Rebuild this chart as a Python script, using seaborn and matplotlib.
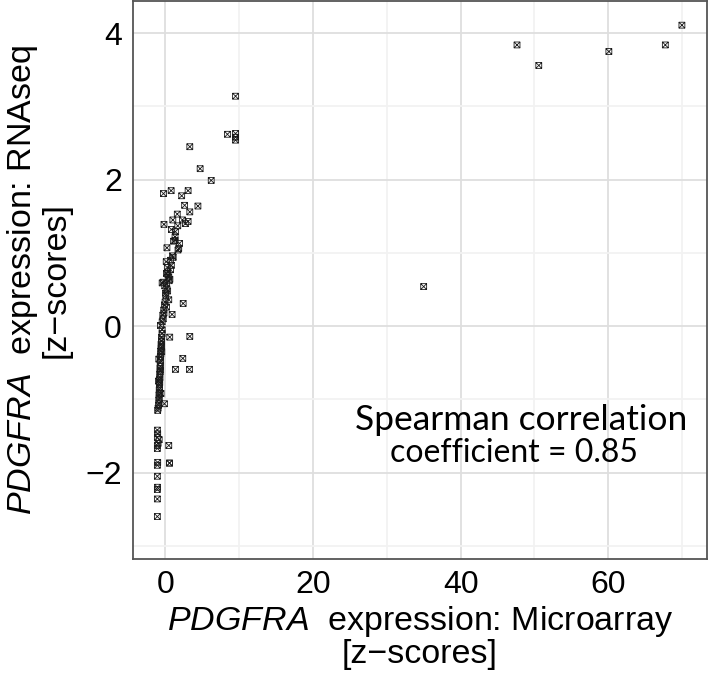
import matplotlib
matplotlib.use("Agg")
import matplotlib.pyplot as plt
import matplotlib.path as mpath
from matplotlib.ticker import MultipleLocator
import seaborn as sns
import pandas as pd

# ---- data ----
microarray = [
    70.0, 47.65, 67.75, 60.1, 50.6, 35.0,
    9.5, 8.4, 9.5, 9.5, 9.5,
    3.3, 4.7, 6.2, -0.27, 0.77, 2.2, 3.07, 2.6, 4.4, 3.3, 1.6, 3.07, 1.0, 2.3, 2.7,
    -0.2, 1.67, 0.8, 1.35, 1.3, 1.3, 1.9, 1.1, 0.2, 1.8,
    1.7, 0.95, 1.05, 0.8, 0.68, 0.14, 0.3, 0.45, -0.45, -0.3, 0.14, 0.2, 0.0, 0.05,
    0.45, 2.4, -0.14, -0.23, 0.9, -0.36, -0.45, -0.68, -0.45, 0.58, 3.3, -0.54,
    -0.54, -0.54, 0.1, 0.25, 0.35, -0.1, 0.6, 0.7, 0.5, 0.3, -0.05, 0.15, -0.3, -0.2,
    -0.55, -0.6, -0.58, -0.65, -0.62, -0.7, -0.66, -0.72, -0.68, -0.75, -0.71, -0.78,
    -0.74, -0.8, -0.77, -0.82, -0.79, -0.85, -0.81, -0.88, -0.84, -0.9, -0.87, -0.93,
    -1.0, -1.05, -0.14, -0.6, -0.5, -0.45, -0.7, -0.9, -0.95,
    2.35, 1.35, 3.25,
    -1.1, -1.05, -1.1, -0.85, -1.0, -1.1, 0.45, 0.55,
    -1.1, -1.05, 0.55, -1.1, -1.1, -1.08, -1.1, -1.1, -1.1,
]
rnaseq = [
    4.11, 3.84, 3.84, 3.75, 3.56, 0.54,
    3.14, 2.62, 2.63, 2.58, 2.54,
    2.45, 2.15, 1.99, 1.81, 1.85, 1.78, 1.85, 1.65, 1.64, 1.56, 1.53, 1.43, 1.45, 1.45, 1.40,
    1.39, 1.37, 1.32, 1.29, 1.22, 1.17, 1.13, 1.16, 1.07, 1.06,
    1.04, 0.96, 0.94, 0.83, 0.77, 0.72, 0.74, 0.67, 0.59, 0.60, 0.58, 0.51, 0.45, 0.42,
    0.36, 0.31, 0.29, 0.22, 0.16, 0.15, 0.06, 0.01, -0.05, -0.15, -0.14, -0.15,
    -0.21, -0.28, 0.88, 0.80, 0.70, 0.55, 0.64, 0.90, 0.62, 0.48, 0.33, 0.26, 0.10, 0.18,
    -0.20, -0.25, -0.30, -0.34, -0.38, -0.42, -0.47, -0.50, -0.55, -0.58, -0.62, -0.66,
    -0.70, -0.73, -0.77, -0.80, -0.84, -0.87, -0.91, -0.94, -0.98, -1.01, -1.05, -1.08,
    -1.12, -1.15, -1.06, -0.92, -0.35, -0.10, -0.60, -0.45, -0.75,
    -0.44, -0.59, -0.59,
    -1.42, -1.47, -1.52, -1.55, -1.60, -1.63, -1.63, -1.87,
    -1.67, -1.86, -1.87, -1.90, -2.05, -2.20, -2.23, -2.36, -2.60,
]

x_ticks = [0, 20, 40, 60]
y_ticks = [-2, 0, 2, 4]
annot_line1 = "Spearman correlation"
annot_line2 = "coefficient = 0.85"

df = pd.DataFrame({"microarray": microarray, "rnaseq": rnaseq})

sns.set_style("white")
plt.rcParams["font.family"] = ["Liberation Sans", "DejaVu Sans"]
plt.rcParams["mathtext.fontset"] = "custom"
plt.rcParams["mathtext.rm"] = "Liberation Sans"
plt.rcParams["mathtext.it"] = "Liberation Sans:italic"
plt.rcParams["text.color"] = "black"
plt.rcParams["axes.labelcolor"] = "black"

fig = plt.figure(figsize=(7.09, 6.93), dpi=100)
ax = fig.add_axes([133 / 709, 1 - 559 / 693, (707 - 133) / 709, (559 - 1) / 693])

# square-with-cross marker
verts = [(-1, -1), (1, -1), (1, 1), (-1, 1), (-1, -1),
         (-1, -1), (1, 1), (-1, 1), (1, -1)]
codes = [mpath.Path.MOVETO, mpath.Path.LINETO, mpath.Path.LINETO, mpath.Path.LINETO,
         mpath.Path.CLOSEPOLY, mpath.Path.MOVETO, mpath.Path.LINETO,
         mpath.Path.MOVETO, mpath.Path.LINETO]
sqx = mpath.Path(verts, codes)

sns.scatterplot(data=df, x="microarray", y="rnaseq", ax=ax, marker=sqx, s=18,
                facecolor="none", edgecolor="#1a1a1a", linewidth=0.6, zorder=3)

ax.set_xlim(-4.4, 73.4)
ax.set_ylim(-3.18, 4.44)
ax.set_xticks(x_ticks)
ax.set_yticks(y_ticks)
ax.xaxis.set_minor_locator(MultipleLocator(10))
ax.yaxis.set_minor_locator(MultipleLocator(1))
ax.grid(True, which="major", color="#DEDEDE", linewidth=1.3, zorder=0)
ax.grid(True, which="minor", color="#F2F2F2", linewidth=1.3, zorder=0)
ax.set_axisbelow(True)
for sp in ax.spines.values():
    sp.set_color("#555555")
    sp.set_linewidth(1.3)
ax.tick_params(which="major", length=4, width=1.6, color="#222222",
               labelsize=23, labelcolor="black", pad=4)
ax.tick_params(which="minor", length=0)

ax.set_xlabel("$\\it{PDGFRA}$  expression: Microarray\n[z\u2212scores]",
              fontsize=24.5, labelpad=3, linespacing=1.0, color="black")
ax.set_ylabel("$\\it{PDGFRA}$  expression: RNAseq\n[z\u2212scores]",
              fontsize=24.5, labelpad=10, linespacing=1.0, color="black")

ax.text(48.2, -1.28, annot_line1, ha="center", va="center", fontsize=25.5,
        family=["Lato", "DejaVu Sans"], color="black")
ax.text(47.2, -1.73, annot_line2, ha="center", va="center", fontsize=23,
        family=["Lato", "DejaVu Sans"], color="black")

fig.savefig("out.png", dpi=100)
